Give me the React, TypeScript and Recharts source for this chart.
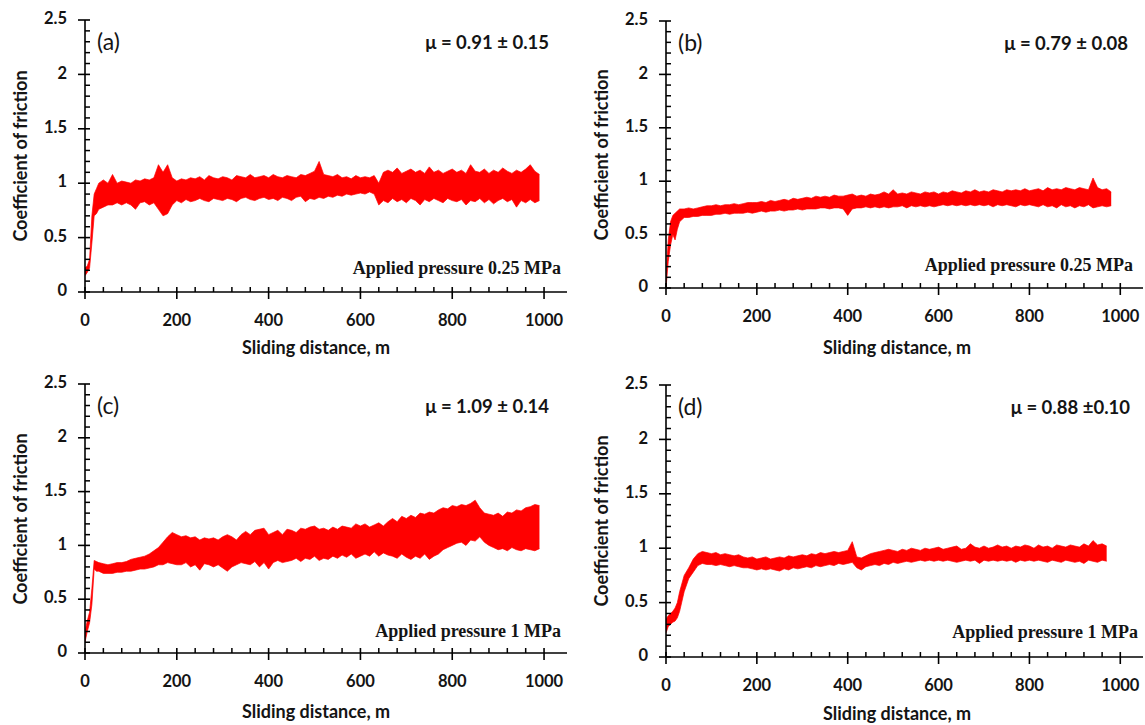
import React from 'react';
import { ComposedChart, Area, XAxis, YAxis } from 'recharts';

// sliding distance (m) at which the friction band is sampled
const DISTANCE = [
  0, 5, 10, 15, 20, 25,
  30, 40, 50, 60, 70, 80, 90, 100, 110, 120,
  130, 140, 150, 160, 170, 180, 190, 200, 210, 220,
  230, 240, 250, 260, 270, 280, 290, 300, 310, 320,
  330, 340, 350, 360, 370, 380, 390, 400, 410, 420,
  430, 440, 450, 460, 470, 480, 490, 500, 510, 520,
  530, 540, 550, 560, 570, 580, 590, 600, 610, 620,
  630, 640, 650, 660, 670, 680, 690, 700, 710, 720,
  730, 740, 750, 760, 770, 780, 790, 800, 810, 820,
  830, 840, 850, 860, 870, 880, 890, 900, 910, 920,
  930, 940, 950, 960, 970, 980, 990,
];

const X_TICKS = [0, 40, 80, 120, 160, 200, 240, 280, 320, 360, 400, 440, 480, 520, 560, 600, 640, 680, 720, 760, 800, 840, 880, 920, 960, 1000];
const Y_TICKS = [0, 0.1, 0.2, 0.3, 0.4, 0.5, 0.6, 0.7, 0.8, 0.9, 1, 1.1, 1.2, 1.3, 1.4, 1.5, 1.6, 1.7, 1.8, 1.9, 2, 2.1, 2.2, 2.3, 2.4, 2.5];

// (a) 0.25 MPa
const A_LO = [
  .15, .18, .22, .45, .70, .72,
  .76, .78, .80, .80, .82, .80, .82, .80, .76, .82,
  .83, .80, .82, .76, .70, .72, .80, .84, .82, .85,
  .83, .84, .86, .84, .83, .86, .85, .84, .86, .85,
  .83, .86, .87, .85, .84, .86, .87, .85, .86, .84,
  .87, .86, .84, .87, .88, .83, .86, .85, .87, .86,
  .88, .87, .89, .88, .90, .89, .90, .91, .90, .92,
  .90, .80, .84, .82, .86, .83, .85, .82, .86, .84,
  .80, .85, .83, .86, .84, .82, .86, .84, .83, .85,
  .80, .84, .83, .86, .82, .85, .81, .84, .86, .83,
  .85, .78, .84, .82, .85, .82, .84,
];
const A_HI = [
  .22, .24, .30, .70, .90, .95,
  1.00, 1.03, 1.00, 1.08, 1.00, 1.02, 1.01, 1.00, 1.03, 1.02,
  1.04, 1.03, 1.05, 1.17, 1.10, 1.17, 1.05, 1.02, 1.04, 1.03,
  1.05, 1.04, 1.06, 1.03, 1.07, 1.05, 1.04, 1.06, 1.05, 1.03,
  1.07, 1.06, 1.05, 1.08, 1.05, 1.06, 1.07, 1.05, 1.08, 1.06,
  1.05, 1.07, 1.06, 1.05, 1.08, 1.07, 1.09, 1.11, 1.20, 1.08,
  1.07, 1.06, 1.08, 1.05, 1.06, 1.04, 1.07, 1.05, 1.06, 1.05,
  1.07, 1.00, 1.10, 1.12, 1.10, 1.14, 1.09, 1.11, 1.13, 1.10,
  1.12, 1.09, 1.15, 1.10, 1.12, 1.09, 1.11, 1.13, 1.10, 1.12,
  1.09, 1.17, 1.11, 1.10, 1.13, 1.09, 1.12, 1.10, 1.14, 1.11,
  1.09, 1.12, 1.10, 1.13, 1.17, 1.11, 1.08,
];

// (b) 0.25 MPa
const B_LO = [
  .00, .25, .40, .50, .45, .55,
  .62, .66, .66, .67, .67, .68, .68, .68, .69, .69,
  .70, .69, .70, .70, .70, .71, .70, .71, .72, .71,
  .72, .72, .73, .72, .73, .73, .74, .73, .74, .74,
  .74, .75, .75, .74, .75, .75, .74, .68, .74, .75,
  .75, .76, .75, .76, .75, .76, .75, .76, .76, .77,
  .75, .77, .76, .77, .76, .77, .76, .77, .78, .77,
  .78, .77, .78, .77, .78, .77, .78, .77, .78, .76,
  .78, .77, .78, .77, .76, .78, .77, .78, .77, .76,
  .78, .76, .77, .75, .78, .76, .77, .75, .77, .76,
  .78, .75, .76, .77, .76, .77,
];
const B_HI = [
  .10, .45, .62, .68, .70, .72,
  .74, .74, .75, .74, .75, .76, .77, .77, .78, .77,
  .78, .78, .79, .78, .79, .80, .80, .80, .81, .80,
  .82, .81, .82, .83, .82, .84, .83, .84, .85, .84,
  .86, .85, .86, .85, .87, .86, .86, .87, .88, .86,
  .87, .86, .88, .87, .88, .90, .88, .92, .88, .89,
  .88, .90, .89, .88, .90, .89, .90, .88, .90, .89,
  .91, .90, .89, .91, .90, .92, .90, .91, .90, .92,
  .91, .90, .92, .91, .92, .91, .93, .91, .92, .93,
  .91, .94, .92, .93, .92, .94, .93, .92, .94, .93,
  .92, 1.03, .94, .92, .93, .90,
];

// (c) 1 MPa
const C_LO = [
  .10, .20, .28, .45, .78, .76,
  .76, .74, .74, .74, .75, .75, .76, .76, .77, .78,
  .78, .79, .80, .82, .82, .84, .83, .82, .82, .84,
  .80, .82, .77, .83, .82, .80, .82, .79, .76, .80,
  .82, .84, .83, .82, .85, .80, .84, .78, .84, .86,
  .84, .85, .86, .88, .85, .88, .87, .90, .86, .88,
  .87, .90, .88, .91, .89, .92, .88, .90, .92, .90,
  .94, .90, .93, .91, .90, .88, .92, .89, .87, .90,
  .88, .92, .87, .90, .92, .96, .98, 1.00, 1.02, 1.03,
  1.00, 1.05, 1.04, 1.08, 1.03, 1.00, .98, .96, .97, .95,
  .98, .96, .95, .97, .96, .95, .97,
];
const C_HI = [
  .20, .30, .38, .60, .86, .85,
  .84, .83, .82, .83, .84, .84, .85, .87, .88, .89,
  .90, .92, .95, .98, 1.03, 1.08, 1.12, 1.10, 1.08, 1.09,
  1.07, 1.08, 1.05, 1.07, 1.06, 1.07, 1.05, 1.08, 1.10, 1.08,
  1.05, 1.10, 1.13, 1.10, 1.14, 1.15, 1.16, 1.10, 1.12, 1.14,
  1.10, 1.15, 1.14, 1.12, 1.16, 1.15, 1.17, 1.18, 1.15, 1.16,
  1.14, 1.17, 1.15, 1.18, 1.17, 1.16, 1.20, 1.18, 1.20, 1.17,
  1.19, 1.21, 1.18, 1.22, 1.25, 1.22, 1.27, 1.25, 1.28, 1.26,
  1.30, 1.29, 1.31, 1.30, 1.33, 1.35, 1.34, 1.37, 1.36, 1.38,
  1.37, 1.39, 1.42, 1.35, 1.30, 1.29, 1.28, 1.30, 1.27, 1.31,
  1.30, 1.33, 1.32, 1.35, 1.36, 1.38, 1.37,
];

// (d) 1 MPa
const D_LO = [
  .22, .28, .30, .32, .33, .36,
  .42, .60, .72, .78, .84, .86, .85, .85, .84, .85,
  .84, .83, .84, .83, .82, .82, .81, .80, .81, .80,
  .81, .80, .79, .81, .80, .82, .81, .82, .83, .82,
  .84, .83, .84, .85, .84, .86, .85, .86, .87, .82,
  .80, .83, .84, .85, .84, .86, .85, .87, .86, .87,
  .88, .87, .88, .89, .88, .89, .88, .89, .88, .89,
  .88, .87, .88, .89, .88, .89, .86, .89, .88, .89,
  .88, .89, .88, .89, .87, .89, .88, .89, .88, .89,
  .88, .87, .89, .88, .87, .89, .88, .87, .88, .86,
  .89, .88, .87, .89, .88,
];
const D_HI = [
  .35, .38, .40, .42, .45, .50,
  .60, .75, .82, .90, .95, .97, .96, .95, .96, .94,
  .95, .94, .93, .94, .92, .91, .92, .90, .91, .92,
  .90, .91, .92, .91, .93, .92, .93, .94, .93, .95,
  .94, .96, .95, .96, .97, .96, .97, .98, 1.06, .92,
  .91, .93, .95, .96, .97, .98, .99, .98, .97, .99,
  .98, 1.00, .99, .98, 1.00, .99, 1.00, 1.01, .99, 1.00,
  1.01, 1.02, .99, 1.00, 1.04, 1.01, 1.00, 1.02, 1.00, 1.01,
  1.03, 1.01, 1.02, 1.00, 1.02, 1.01, 1.03, 1.02, 1.00, 1.03,
  1.01, 1.02, 1.00, 1.03, 1.02, 1.01, 1.03, 1.02, 1.01, 1.04,
  1.02, 1.07, 1.03, 1.04, 1.02,
];

const RED = '#ff0000';
const INK = '#141414';
const SANS = 'Lato, "Open Sans", sans-serif';
const SERIF = '"Liberation Serif", "DejaVu Serif", serif';
const AXIS_W = 60;
const AXIS_H = 50;

const XTick = (props: any) => {
  const { x, y, payload } = props;
  const v = payload.value;
  if (v % 200 !== 0) {
    return <line x1={x} x2={x} y1={y} y2={y - 5} stroke="#000" strokeWidth={1.5} />;
  }
  return (
    <g>
      <line x1={x} x2={x} y1={y - 5} y2={y + 7} stroke="#000" strokeWidth={1.6} />
      <text x={x} y={y + 30} textAnchor="middle" dominantBaseline="middle"
        style={{ fontFamily: SANS, fontWeight: 700, fontSize: 16.5, fill: INK }}>{v}</text>
    </g>
  );
};

const YTick = (props: any) => {
  const { x, y, payload } = props;
  const v = payload.value;
  const major = Math.abs(v * 2 - Math.round(v * 2)) < 1e-6;
  if (!major) {
    return <line x1={x} x2={x + 5} y1={y} y2={y} stroke="#000" strokeWidth={1.5} />;
  }
  return (
    <g>
      <line x1={x - 7} x2={x + 5} y1={y} y2={y} stroke="#000" strokeWidth={1.6} />
      <text x={x - 18} y={y} textAnchor="end" dominantBaseline="middle"
        style={{ fontFamily: SANS, fontWeight: 700, fontSize: 16.5, fill: INK }}>{String(v)}</text>
    </g>
  );
};

interface PanelProps {
  box: { left: number; top: number; width: number; height: number };
  plot: { l: number; t: number; r: number; b: number };
  lo: number[];
  hi: number[];
  letter: string;
  mu: string;
  muRight: number;
  pressure: string;
  pressureRight: number;
  pressureDy: number;
  titleDy: number;
}

const abs = (left: number, top: number, transform: string, extra: React.CSSProperties = {}): React.CSSProperties => ({
  position: 'absolute', left, top, transform, whiteSpace: 'nowrap', color: INK, lineHeight: 1, ...extra,
});

const Panel: React.FC<PanelProps> = ({ box, plot, lo, hi, letter, mu, muRight, pressure, pressureRight, pressureDy, titleDy }) => {
  const data = lo.map((v, i) => ({ x: DISTANCE[i], range: [v, hi[i]] }));
  const margin = {
    top: plot.t - box.top,
    right: box.left + box.width - plot.r,
    left: plot.l - box.left - AXIS_W,
    bottom: box.top + box.height - plot.b - AXIS_H,
  };
  return (
    <>
      <div style={{ position: 'absolute', left: box.left, top: box.top }}>
        <ComposedChart width={box.width} height={box.height} data={data} margin={margin}>
          <XAxis dataKey="x" type="number" domain={[0, 1050]} ticks={X_TICKS} interval={0}
            height={AXIS_H} tickSize={0} tickMargin={0} tickLine={false} tick={<XTick />}
            axisLine={{ stroke: '#000', strokeWidth: 1.6 }} allowDataOverflow />
          <XAxis xAxisId="top" orientation="top" type="number" domain={[0, 1050]} height={0}
            tick={false} tickLine={false} axisLine={{ stroke: '#000', strokeWidth: 1.6 }} />
          <YAxis type="number" domain={[0, 2.5]} ticks={Y_TICKS} interval={0} width={AXIS_W}
            tickSize={0} tickMargin={0} tickLine={false} tick={<YTick />}
            axisLine={{ stroke: '#000', strokeWidth: 1.6 }} allowDataOverflow />
          <YAxis yAxisId="right" orientation="right" type="number" domain={[0, 2.5]} width={0}
            tick={false} tickLine={false} axisLine={{ stroke: '#000', strokeWidth: 1.6 }} />
          <Area type="linear" dataKey="range" stroke={RED} strokeWidth={1} strokeOpacity={0.7} fill={RED} fillOpacity={1}
            dot={false} activeDot={false} isAnimationActive={false} />
        </ComposedChart>
      </div>
      <div style={abs(plot.l + 12, plot.t + 21, 'translate(0,-50%)', { fontFamily: SANS, fontSize: 23 })}>{letter}</div>
      <div style={abs(muRight, plot.t + 22, 'translate(-100%,-50%)', { fontFamily: SANS, fontSize: 18.5, fontWeight: 700 })}>{mu}</div>
      <div style={abs(pressureRight, plot.b + pressureDy, 'translate(-100%,-50%)', { fontFamily: SERIF, fontSize: 18, fontWeight: 700 })}>{pressure}</div>
      <div style={abs(plot.l - 65, (plot.t + plot.b) / 2, 'translate(-50%,-50%) rotate(-90deg)', { fontFamily: SANS, fontSize: 18, fontWeight: 700 })}>Coefficient of friction</div>
      <div style={abs(plot.l + 231, plot.b + titleDy, 'translate(-50%,-50%)', { fontFamily: SANS, fontSize: 18, fontWeight: 700 })}>Sliding distance, m</div>
    </>
  );
};

export default function App() {
  return (
    <div style={{ position: 'absolute', left: 0, top: 0, width: 1145, height: 725, background: '#fff', overflow: 'hidden' }}>
      <Panel box={{ left: 0, top: 0, width: 580, height: 360 }} plot={{ l: 85, t: 20, r: 567, b: 292 }}
        lo={A_LO} hi={A_HI} letter="(a)" mu="μ = 0.91 ± 0.15" muRight={549}
        pressure="Applied pressure 0.25 MPa" pressureRight={561} pressureDy={-24} titleDy={55} />
      <Panel box={{ left: 580, top: 0, width: 565, height: 360 }} plot={{ l: 666, t: 21, r: 1143, b: 288 }}
        lo={B_LO} hi={B_HI} letter="(b)" mu="μ = 0.79 ± 0.08" muRight={1128}
        pressure="Applied pressure 0.25 MPa" pressureRight={1133} pressureDy={-23} titleDy={59} />
      <Panel box={{ left: 0, top: 362, width: 580, height: 363 }} plot={{ l: 85, t: 384, r: 567, b: 653 }}
        lo={C_LO} hi={C_HI} letter="(c)" mu="μ = 1.09 ± 0.14" muRight={549}
        pressure="Applied pressure 1 MPa" pressureRight={561} pressureDy={-22} titleDy={58} />
      <Panel box={{ left: 580, top: 362, width: 565, height: 363 }} plot={{ l: 666, t: 385, r: 1143, b: 657 }}
        lo={D_LO} hi={D_HI} letter="(d)" mu="μ = 0.88 ±0.10" muRight={1130}
        pressure="Applied pressure 1 MPa" pressureRight={1138} pressureDy={-25} titleDy={56} />
    </div>
  );
}
